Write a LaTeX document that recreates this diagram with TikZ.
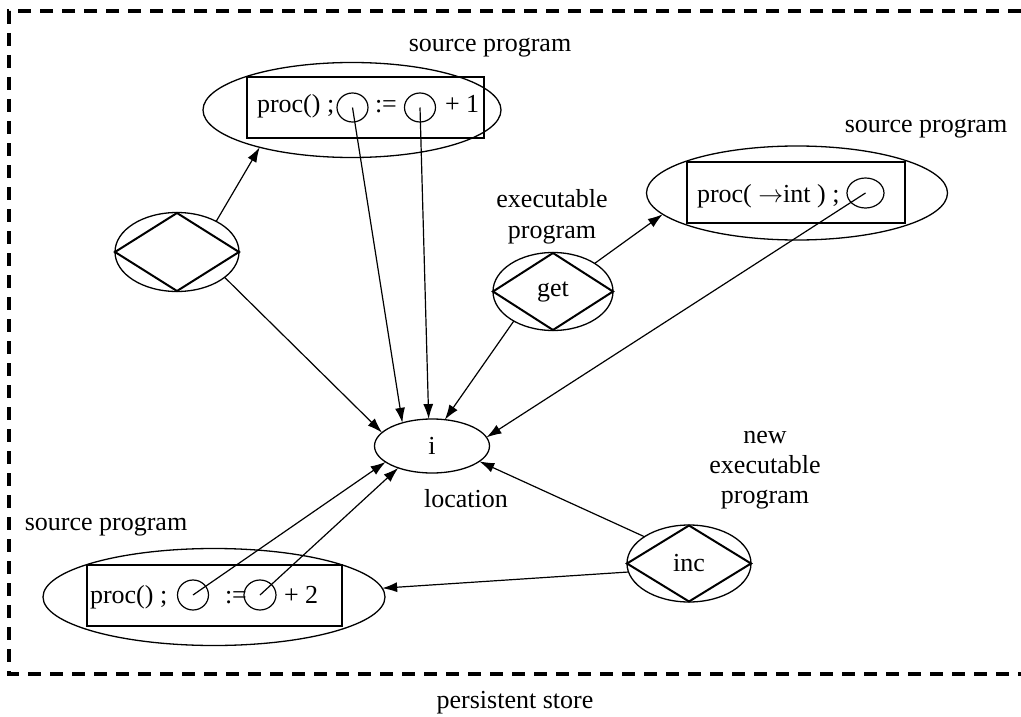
\documentclass[tikz,border=0pt]{standalone}
\usepackage{fontspec}
\setmainfont{Liberation Serif}
\usetikzlibrary{shapes.geometric,arrows.meta}
\begin{document}
\begin{tikzpicture}[x=1pt,y=-1pt,
  blob/.style={ellipse, draw, line width=1.3pt, inner sep=0pt, outer sep=0pt},
  hole/.style={ellipse, draw, line width=1.2pt, inner sep=0pt, outer sep=0pt},
  exe/.style={diamond, draw, line width=2pt, inner sep=0pt, outer sep=0pt, font=\fontsize{26}{30}\selectfont},
  codebox/.style={rectangle, draw, line width=1.5pt, inner sep=0pt, outer sep=0pt},
  txt/.style={font=\fontsize{26}{30}\selectfont, inner sep=0pt, outer sep=0pt},
  link/.style={line width=1.2pt, -{Latex[length=15pt,width=10pt]}},
  store/.style={line width=3.2pt, dash pattern=on 13pt off 9pt}
]
\useasboundingbox (0,0) rectangle (1021,717);

% persistent store boundary
\draw[store] (1021,11) -- (9,11) -- (9,674) -- (1021,674);
\node[txt, anchor=base] (storelbl) at (515,708) {persistent store};

% location i
\node[blob, minimum width=115pt, minimum height=54pt, font=\fontsize{26}{30}\selectfont] (loc) at (432,446) {i};
\node[txt, anchor=base] (loclbl) at (466,507) {location};

% source program (top)
\node[blob, minimum width=298pt, minimum height=95pt] (srcA) at (352,110) {};
\node[codebox, minimum width=237pt, minimum height=61pt] (boxA) at (365.5,107.5) {};
\node[txt, anchor=base west] (pA) at (257,113) {proc() ;};
\node[hole, minimum width=31pt, minimum height=29pt] (hA1) at (352.5,107.5) {};
\node[txt, anchor=base west] (asA) at (375,113) {:=};
\node[hole, minimum width=31pt, minimum height=29pt] (hA2) at (420,107.5) {};
\node[txt, anchor=base west] (plA) at (445,113) {+ 1};
\node[txt, anchor=base] (srcAlbl) at (490,52) {source program};

% source program (top right)
\node[blob, minimum width=301pt, minimum height=94pt] (srcT) at (797,193) {};
\node[codebox, minimum width=218pt, minimum height=61pt] (boxT) at (796,192.5) {};
\node[txt, anchor=base west] (pT) at (697,202) {proc( $\rightarrow$int ) ;};
\node[hole, minimum width=37pt, minimum height=30pt] (hT) at (865.5,193) {};
\node[txt, anchor=base] (srcTlbl) at (926,132) {source program};

% source program (bottom left)
\node[blob, minimum width=342pt, minimum height=97pt] (srcB) at (214,597) {};
\node[codebox, minimum width=255pt, minimum height=61pt] (boxB) at (214.5,595.5) {};
\node[txt, anchor=base west] (pB) at (90,603) {proc() ;};
\node[hole, minimum width=31pt, minimum height=30pt] (hB1) at (193,595) {};
\node[txt, anchor=base west] (asB) at (225,603) {:=};
\node[hole, minimum width=32pt, minimum height=30pt] (hB2) at (260,595) {};
\node[txt, anchor=base west] (plB) at (284,603) {+ 2};
\node[txt, anchor=base] (srcBlbl) at (106,530) {source program};

% unnamed executable program (left)
\node[blob, minimum width=124pt, minimum height=79pt] (prgL) at (177,252) {};
\node[exe, minimum width=124pt, minimum height=78pt] (dL) at (177,252) {};

% executable program get
\node[blob, minimum width=120pt, minimum height=78pt] (prgG) at (553,291.5) {};
\node[exe, minimum width=120pt, minimum height=77pt] (dG) at (553,291.5) {get};
\node[txt, anchor=base] (getl1) at (552,207) {executable};
\node[txt, anchor=base] (getl2) at (552,238) {program};

% new executable program inc
\node[blob, minimum width=124pt, minimum height=77pt] (prgI) at (689,563.5) {};
\node[exe, minimum width=124pt, minimum height=76pt] (dI) at (689,563.5) {inc};
\node[txt, anchor=base] (incl1) at (765,443) {new};
\node[txt, anchor=base] (incl2) at (765,473) {executable};
\node[txt, anchor=base] (incl3) at (765,503) {program};

% connectors
\draw[link] (prgL.38) -- (srcA.202);
\draw[link] (prgL.332) -- (loc.165);
\draw[link] (hA1.center) -- (loc.142);
\draw[link] (hA2.center) -- (loc.97);
\draw[link] (prgG.34) -- (srcT.189);
\draw[link] (prgG.217) -- (loc.64);
\draw[link] (hT.center) -- (loc.9);
\draw[link] (hB1.center) -- (loc.199);
\draw[link] (hB2.center) -- (loc.213);
\draw[link] (prgI.149) -- (loc.342);
\draw[link] (prgI.188) -- (srcB.3);
\end{tikzpicture}
\end{document}
